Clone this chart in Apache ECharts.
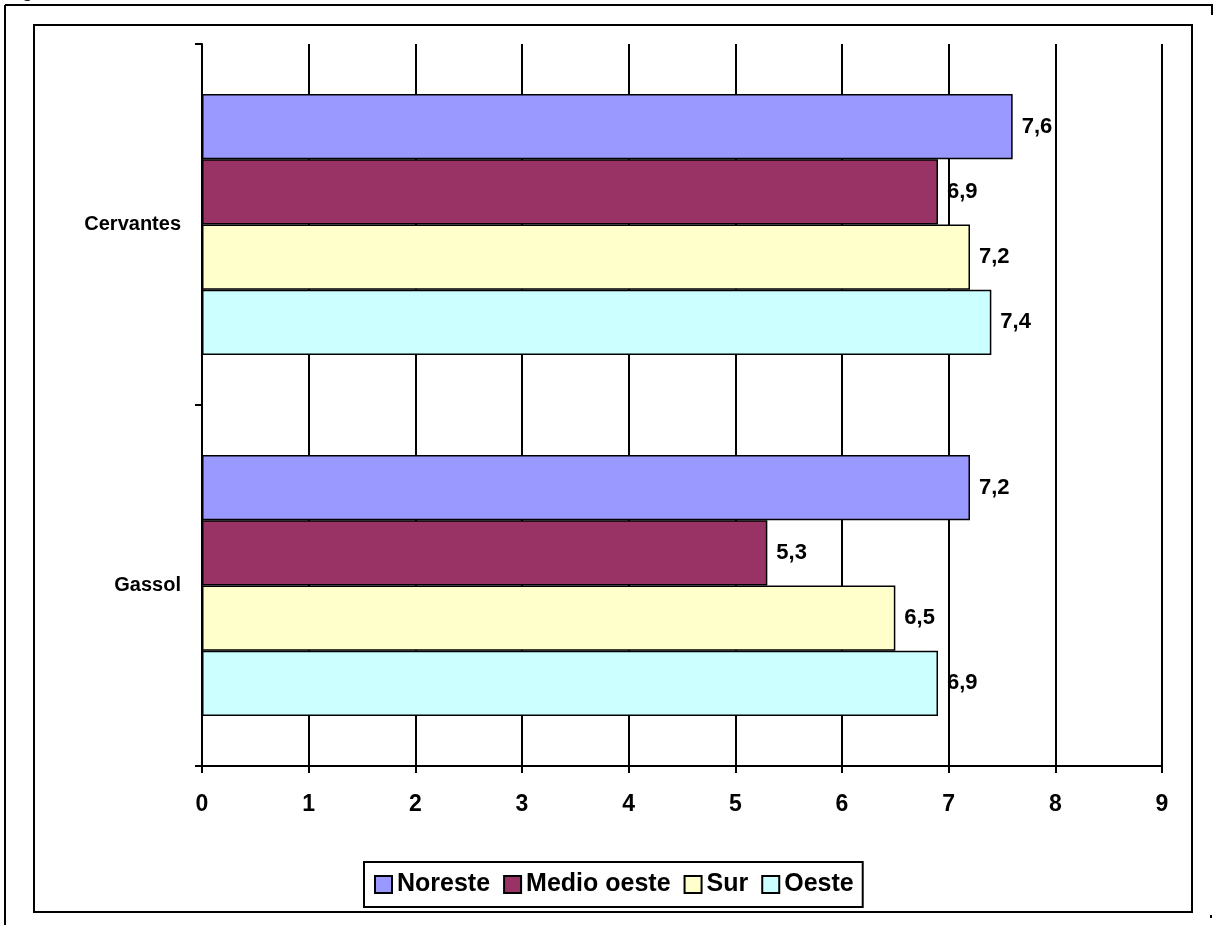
<!DOCTYPE html>
<html>
<head>
<meta charset="utf-8">
<script src="https://cdn.jsdelivr.net/npm/echarts@6/dist/echarts.min.js"></script>
<style>html,body{margin:0;padding:0;background:#fff}#c{width:1216px;height:925px}</style>
</head>
<body>
<div id="c"></div>
<script>
const categories = ['Cervantes', 'Gassol'];
const seriesNames = ['Noreste', 'Medio oeste', 'Sur', 'Oeste'];
const noreste = [7.6, 7.2];
const medioOeste = [6.9, 5.3];
const sur = [7.2, 6.5];
const oeste = [7.4, 6.9];
const xTicks = [0, 1, 2, 3, 4, 5, 6, 7, 8, 9];
const colors = ['#9999FF', '#993366', '#FFFFCC', '#CCFFFF'];
const values = [noreste, medioOeste, sur, oeste];

const font = '"Liberation Sans", Arial, sans-serif';
const chart = echarts.init(document.getElementById('c'), null, {renderer: 'canvas'});

const series = seriesNames.map((n, i) => ({
  name: n,
  type: 'bar',
  data: values[i],
  barGap: '0%',
  barCategoryGap: '27.7%',
  itemStyle: {color: colors[i], borderColor: '#000', borderWidth: 1.5},
  label: {
    show: true, position: 'right', distance: 9,
    formatter: p => String(p.value).replace('.', ','),
    color: '#000', fontWeight: 'bold', fontSize: 22, fontFamily: font
  },
  emphasis: {disabled: true}
}));

chart.setOption({
  animation: false,
  textStyle: {fontFamily: font},
  grid: {left: 202, right: 54, top: 44, bottom: 159, containLabel: false},
  xAxis: {
    type: 'value', min: xTicks[0], max: xTicks[xTicks.length - 1], interval: 1,
    axisLine: {show: true, lineStyle: {color: '#000', width: 2}},
    axisTick: {show: true, length: 7, lineStyle: {color: '#000', width: 2}},
    axisLabel: {color: '#000', fontWeight: 'bold', fontSize: 23, margin: 27, fontFamily: font},
    splitLine: {show: true, lineStyle: {color: '#000', width: 2}}
  },
  yAxis: {
    type: 'category', data: categories, inverse: true,
    axisLine: {show: true, lineStyle: {color: '#000', width: 2}},
    axisTick: {show: true, length: 7, lineStyle: {color: '#000', width: 2}},
    axisLabel: {color: '#000', fontWeight: 'bold', fontSize: 20, margin: 21, fontFamily: font},
    splitLine: {show: false}
  },
  legend: {
    data: seriesNames,
    left: 364, top: 862,
    orient: 'horizontal',
    padding: [10, 9, 10, 10],
    itemGap: 13, itemWidth: 17, itemHeight: 17,
    icon: 'rect',
    backgroundColor: '#fff',
    borderColor: '#000', borderWidth: 2, borderRadius: 0,
    textStyle: {color: '#000', fontWeight: 'bold', fontSize: 25, fontFamily: font},
    itemStyle: {borderColor: '#000', borderWidth: 2}
  },
  graphic: [
    {type: 'line', shape: {x1: 5, y1: 5, x2: 1213, y2: 5}, style: {stroke: '#000', lineWidth: 2}},
    {type: 'line', shape: {x1: 5, y1: 5, x2: 5, y2: 925}, style: {stroke: '#000', lineWidth: 2}},
    {type: 'line', shape: {x1: 1212, y1: 5, x2: 1212, y2: 15}, style: {stroke: '#000', lineWidth: 2}},
    {type: 'line', shape: {x1: 1211, y1: 915, x2: 1211, y2: 918}, style: {stroke: '#000', lineWidth: 2}},
    {type: 'rect', shape: {x: 34, y: 25, width: 1158, height: 887}, style: {fill: null, stroke: '#000', lineWidth: 2}, z: -1},
    {type: 'text', x: 6, y: -17, style: {text: 'Figura', fill: '#000', font: 'bold 18px ' + font}}
  ],
  series: series
});
</script>
</body>
</html>
